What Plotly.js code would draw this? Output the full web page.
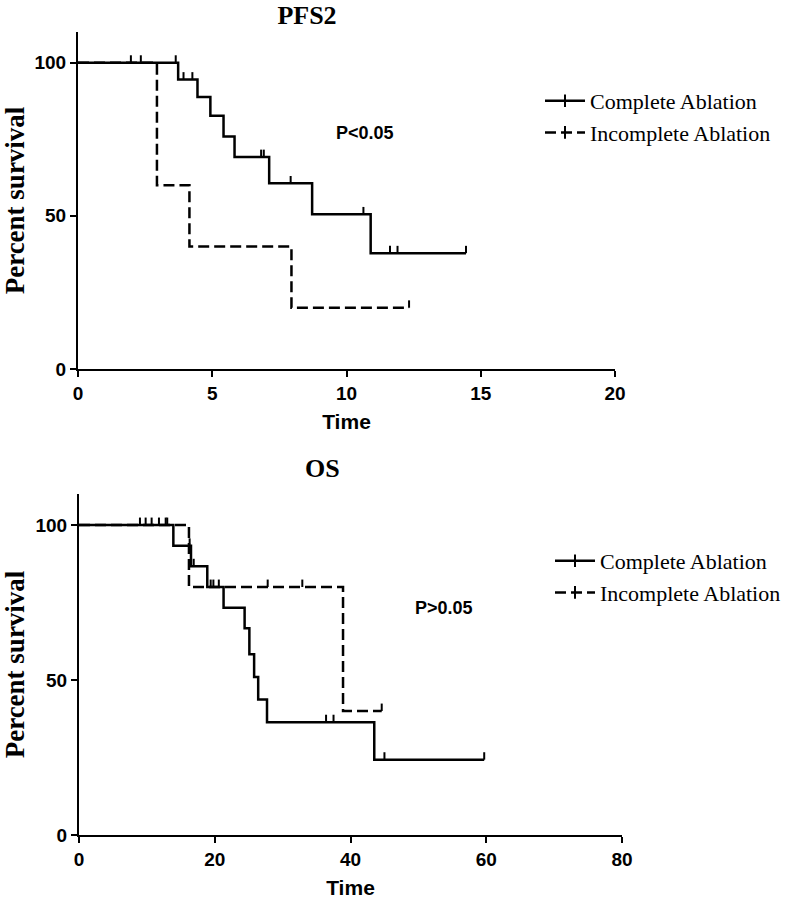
<!DOCTYPE html>
<html>
<head>
<meta charset="utf-8">
<script src="https://cdn.plot.ly/plotly-3.0.1.min.js"></script>
<style>html,body{margin:0;padding:0;background:#fff;}#chart{width:800px;height:900px;}</style>
</head>
<body>
<div id="chart"></div>
<script>
// ---------- DATA ----------
// PFS2 - Complete Ablation (event times / survival %)
const pfsCompleteT = [0, 3.73, 4.45, 4.93, 5.42, 5.83, 7.12, 8.72, 10.9, 14.45];
const pfsCompleteS = [100, 94.5, 88.8, 82.7, 75.9, 69.2, 60.6, 50.5, 37.8, 37.8];
const pfsCompleteCens = [1.97, 2.34, 3.64, 3.93, 4.26, 6.82, 6.92, 7.92, 10.63, 11.62, 11.9, 14.45];
// PFS2 - Incomplete Ablation
const pfsIncompleteT = [0, 2.94, 4.15, 7.95, 12.33];
const pfsIncompleteS = [100, 60, 40, 20, 20];
const pfsIncompleteCens = [12.33];
// OS - Complete Ablation
const osCompleteT = [0, 13.9, 16.5, 18.9, 21.3, 24.4, 25.1, 25.8, 26.4, 27.7, 43.5, 59.7];
const osCompleteS = [100, 93.3, 86.7, 80, 73.3, 66.7, 58.3, 51.0, 43.7, 36.4, 24.3, 24.3];
const osCompleteCens = [8.98, 9.82, 10.7, 11.78, 12.77, 13.0, 16.3, 16.9, 19.4, 19.8, 20.6, 36.4, 37.5, 45.0, 59.7];
// OS - Incomplete Ablation
const osIncompleteT = [0, 16.2, 38.9, 44.6];
const osIncompleteS = [100, 80, 40, 40];
const osIncompleteCens = [27.8, 32.9, 44.6];

const seriesNames = ['Complete Ablation', 'Incomplete Ablation'];
const pfsTicks = [0, 5, 10, 15, 20];
const osTicks = [0, 20, 40, 60, 80];
const yTicks = [0, 50, 100];

// ---------- STYLE ----------
const TICK_UP = 2.4;   // censor mark length (axis units)
const LW = 2.5;
const DASH = '11px,5px';

function survAt(T, S, t) {
  let s = S[0];
  for (let i = 0; i < T.length; i++) { if (T[i] <= t) s = S[i]; }
  return s;
}
function curve(T, S, xa, ya, dash) {
  return {x: T, y: S, xaxis: xa, yaxis: ya, mode: 'lines', showlegend: false, hoverinfo: 'skip',
          line: {shape: 'hv', color: '#000', width: LW, dash: dash}};
}
function censors(C, T, S, xa, ya) {
  return {x: C, y: C.map(t => survAt(T, S, t)), xaxis: xa, yaxis: ya, mode: 'markers', showlegend: false,
          hoverinfo: 'skip', marker: {size: 1, color: 'rgba(0,0,0,0)'},
          error_y: {type: 'data', symmetric: false, array: C.map(() => TICK_UP), arrayminus: C.map(() => 0),
                    width: 0, thickness: 2, color: '#000'}};
}
function legendItem(name, dash, legend, grp) {
  return {x: [null], y: [null], name: name, mode: 'lines+markers', legend: legend, legendgroup: grp,
          xaxis: legend === 'legend' ? 'x' : 'x2', yaxis: legend === 'legend' ? 'y' : 'y2',
          line: {color: '#000', width: LW, dash: dash},
          marker: {symbol: 'line-ns-open', size: 9, line: {width: 2, color: '#000'}, color: '#000'}};
}

const traces = [
  curve(pfsCompleteT, pfsCompleteS, 'x', 'y', 'solid'),
  censors(pfsCompleteCens, pfsCompleteT, pfsCompleteS, 'x', 'y'),
  curve(pfsIncompleteT, pfsIncompleteS, 'x', 'y', DASH),
  censors(pfsIncompleteCens, pfsIncompleteT, pfsIncompleteS, 'x', 'y'),
  curve(osCompleteT, osCompleteS, 'x2', 'y2', 'solid'),
  censors(osCompleteCens, osCompleteT, osCompleteS, 'x2', 'y2'),
  curve(osIncompleteT, osIncompleteS, 'x2', 'y2', DASH),
  censors(osIncompleteCens, osIncompleteT, osIncompleteS, 'x2', 'y2'),
  legendItem(seriesNames[0], 'solid', 'legend', 'a'),
  legendItem(seriesNames[1], DASH, 'legend', 'b'),
  legendItem(seriesNames[0], 'solid', 'legend2', 'c'),
  legendItem(seriesNames[1], DASH, 'legend2', 'd')
];

const tickFont = {family: 'Liberation Sans, Arial, sans-serif', size: 19, color: '#000', weight: 'bold'};
const xTitleFont = {family: 'Liberation Sans, Arial, sans-serif', size: 21, color: '#000', weight: 'bold'};
const yTitleFont = {family: 'Liberation Serif, Times New Roman, serif', size: 27, color: '#000', weight: 'bold'};
const axBase = {showline: true, linewidth: 2, linecolor: '#000', ticks: 'outside', ticklen: 6, tickwidth: 2,
                tickcolor: '#000', showgrid: false, zeroline: false, tickfont: tickFont, fixedrange: true};
const legBase = {xanchor: 'left', yanchor: 'top', bgcolor: 'rgba(0,0,0,0)', borderwidth: 0,
                 font: {family: 'Liberation Serif, Times New Roman, serif', size: 22, color: '#000'},
                 traceorder: 'grouped', tracegroupgap: 0, itemwidth: 40};

const layout = {
  width: 800, height: 900,
  margin: {l: 0, r: 0, t: 0, b: 0},
  paper_bgcolor: '#fff', plot_bgcolor: '#fff',
  title: {text: 'PFS2', x: 307/800, xanchor: 'center', y: 1 - 15/900, yanchor: 'middle',
          font: {family: 'Liberation Serif, Times New Roman, serif', size: 26, color: '#000', weight: 'bold'}},
  xaxis: Object.assign({}, axBase, {domain: [78/800, 615/800], range: [0, 20], tickvals: pfsTicks, anchor: 'y',
          title: {text: 'Time', font: xTitleFont, standoff: 12}}),
  yaxis: Object.assign({}, axBase, {domain: [1 - 369/900, 1 - 32/900], range: [0, 110], tickvals: yTicks, anchor: 'x',
          title: {text: 'Percent survival', font: yTitleFont, standoff: 10}}),
  xaxis2: Object.assign({}, axBase, {domain: [79/800, 622/800], range: [0, 80], tickvals: osTicks, anchor: 'y2',
          title: {text: 'Time', font: xTitleFont, standoff: 12}}),
  yaxis2: Object.assign({}, axBase, {domain: [1 - 835/900, 1 - 494/900], range: [0, 110], tickvals: yTicks, anchor: 'x2',
          title: {text: 'Percent survival', font: yTitleFont, standoff: 10}}),
  legend: Object.assign({}, legBase, {x: 540/800, y: 1 - 80/900}),
  legend2: Object.assign({}, legBase, {x: 550/800, y: 1 - 540/900}),
  annotations: [
    {text: 'OS', xref: 'paper', yref: 'paper', x: 322/800, y: 1 - 468/900, xanchor: 'center', yanchor: 'middle',
     showarrow: false, font: {family: 'Liberation Serif, Times New Roman, serif', size: 26, color: '#000', weight: 'bold'}},
    {text: 'P<0.05', xref: 'paper', yref: 'paper', x: 365/800, y: 1 - 133/900, xanchor: 'center', yanchor: 'middle',
     showarrow: false, font: {family: 'Liberation Sans, Arial, sans-serif', size: 18, color: '#000', weight: 'bold'}},
    {text: 'P>0.05', xref: 'paper', yref: 'paper', x: 444/800, y: 1 - 608/900, xanchor: 'center', yanchor: 'middle',
     showarrow: false, font: {family: 'Liberation Sans, Arial, sans-serif', size: 18, color: '#000', weight: 'bold'}}
  ],
  showlegend: true
};

Plotly.newPlot('chart', traces, layout, {staticPlot: true, displayModeBar: false});
</script>
</body>
</html>
